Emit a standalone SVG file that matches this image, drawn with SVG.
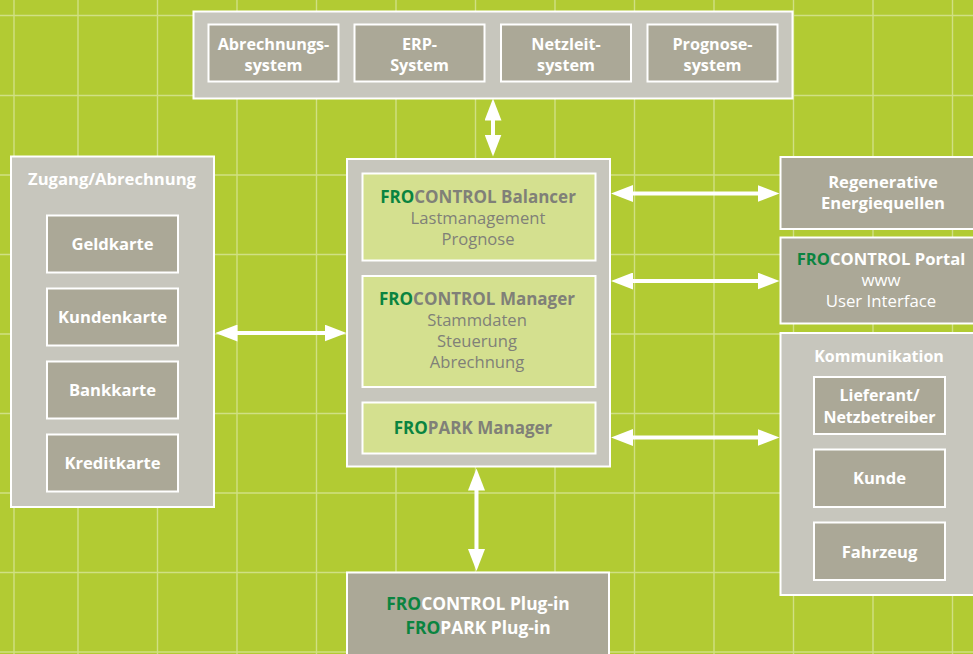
<svg xmlns="http://www.w3.org/2000/svg" width="973" height="654" viewBox="0 0 973 654">
<defs>
<style>
.grid line{stroke:#d0e083;stroke-width:1.4}
.cont{fill:#c7c6bd;stroke:#fff;stroke-width:2}
.dark{fill:#aba897;stroke:#fff;stroke-width:2}
.light{fill:#d4e08f;stroke:#fff;stroke-width:2}
text{font-family:"Open Sans","Liberation Sans",sans-serif;text-anchor:middle}
.w{fill:#fff;font-weight:700;font-size:16.6px}
.s{font-size:16.2px}
.k{font-size:16px}
.b{font-size:17.4px}
.t{fill:#808078;font-weight:700;font-size:17px}
.r{fill:#808078;font-weight:400;font-size:16.6px}
.wr{fill:#fff;font-weight:400;font-size:16.8px}
.fro{fill:#0a8440}
.conn line{stroke:#fff;stroke-width:4;marker-start:url(#ah);marker-end:url(#ah)}
</style>
<marker id="ah" markerUnits="userSpaceOnUse" markerWidth="22" markerHeight="17" viewBox="0 0 22 17" refX="12" refY="8.5" orient="auto-start-reverse">
<path d="M0,0 L22,8.5 L0,17 Z" fill="#fff"/>
</marker>
</defs>
<rect width="973" height="654" fill="#b2cb33"/>
<g class="grid">
<line x1="14" y1="0" x2="14" y2="654"/>
<line x1="78" y1="0" x2="78" y2="654"/>
<line x1="157.5" y1="0" x2="157.5" y2="654"/>
<line x1="237" y1="0" x2="237" y2="654"/>
<line x1="316.5" y1="0" x2="316.5" y2="654"/>
<line x1="396" y1="0" x2="396" y2="654"/>
<line x1="475.5" y1="0" x2="475.5" y2="654"/>
<line x1="555" y1="0" x2="555" y2="654"/>
<line x1="634.5" y1="0" x2="634.5" y2="654"/>
<line x1="714" y1="0" x2="714" y2="654"/>
<line x1="793.5" y1="0" x2="793.5" y2="654"/>
<line x1="873" y1="0" x2="873" y2="654"/>
<line x1="952.5" y1="0" x2="952.5" y2="654"/>
<line x1="0" y1="15.5" x2="973" y2="15.5"/>
<line x1="0" y1="95.5" x2="973" y2="95.5"/>
<line x1="0" y1="175" x2="973" y2="175"/>
<line x1="0" y1="254.5" x2="973" y2="254.5"/>
<line x1="0" y1="334" x2="973" y2="334"/>
<line x1="0" y1="413.5" x2="973" y2="413.5"/>
<line x1="0" y1="493" x2="973" y2="493"/>
<line x1="0" y1="572.5" x2="973" y2="572.5"/>
<line x1="0" y1="652" x2="973" y2="652"/>
</g>

<g id="systems">
<rect class="cont" x="193.5" y="11.5" width="599" height="87"/>
<g id="abrechnungssystem"><rect class="dark" x="208.5" y="24.5" width="130" height="57"/><text class="w s" x="273.5" y="50">Abrechnungs-</text><text class="w s" x="273.5" y="70.5">system</text></g>
<g id="erp"><rect class="dark" x="354.5" y="24.5" width="130" height="57"/><text class="w s" x="419.5" y="50">ERP-</text><text class="w s" x="419.5" y="70.5">System</text></g>
<g id="netzleit"><rect class="dark" x="501" y="24.5" width="130" height="57"/><text class="w s" x="566" y="50">Netzleit-</text><text class="w s" x="566" y="70.5">system</text></g>
<g id="prognosesystem"><rect class="dark" x="647.5" y="24.5" width="130" height="57"/><text class="w s" x="712.5" y="50">Prognose-</text><text class="w s" x="712.5" y="70.5">system</text></g>
</g>

<g id="zugang">
<rect class="cont" x="11" y="156.5" width="203" height="350.5"/>
<text class="w" x="112" y="185">Zugang/Abrechnung</text>
<g id="geldkarte"><rect class="dark" x="47" y="215.5" width="131" height="57"/><text class="w" x="112.5" y="250">Geldkarte</text></g>
<g id="kundenkarte"><rect class="dark" x="47" y="288.5" width="131" height="57"/><text class="w" x="112.5" y="323">Kundenkarte</text></g>
<g id="bankkarte"><rect class="dark" x="47" y="361.5" width="131" height="57"/><text class="w" x="112.5" y="396">Bankkarte</text></g>
<g id="kreditkarte"><rect class="dark" x="47" y="434.5" width="131" height="57"/><text class="w" x="112.5" y="469">Kreditkarte</text></g>
</g>

<g id="center">
<rect class="cont" x="347" y="159" width="263" height="307.5"/>
<g id="balancer"><rect class="light" x="362.5" y="173.5" width="233" height="87"/>
<text class="t" x="478" y="203"><tspan class="fro">FRO</tspan>CONTROL Balancer</text>
<text class="r" x="478" y="224">Lastmanagement</text>
<text class="r" x="478" y="245">Prognose</text></g>
<g id="manager"><rect class="light" x="362.5" y="276" width="233" height="111"/>
<text class="t" x="477" y="305"><tspan class="fro">FRO</tspan>CONTROL Manager</text>
<text class="r" x="477" y="326">Stammdaten</text>
<text class="r" x="477" y="347">Steuerung</text>
<text class="r" x="477" y="368">Abrechnung</text></g>
<g id="parkmanager"><rect class="light" x="362.5" y="402.5" width="233" height="51"/>
<text class="t" x="473" y="434"><tspan class="fro">FRO</tspan>PARK Manager</text></g>
</g>

<g id="regenerative"><rect class="dark" x="780.5" y="157" width="200" height="72"/>
<text class="w" x="883" y="187.5">Regenerative</text><text class="w" x="883" y="209">Energiequellen</text></g>

<g id="portal"><rect class="dark" x="780.5" y="237.5" width="200" height="86"/>
<text class="w" x="881" y="265"><tspan class="fro">FRO</tspan>CONTROL Portal</text>
<text class="wr" x="881" y="286">www</text>
<text class="wr" x="881" y="307">User Interface</text></g>

<g id="kommunikation">
<rect class="cont" x="780.5" y="333" width="200" height="262"/>
<text class="w k" x="879" y="361.5">Kommunikation</text>
<g id="lieferant"><rect class="dark" x="814" y="377" width="131" height="57"/><text class="w k" x="879.5" y="401">Lieferant/</text><text class="w k" x="879.5" y="422.5">Netzbetreiber</text></g>
<g id="kunde"><rect class="dark" x="814" y="449.5" width="131" height="57.5"/><text class="w" x="879.5" y="484">Kunde</text></g>
<g id="fahrzeug"><rect class="dark" x="814" y="522.5" width="131" height="57.5"/><text class="w" x="879.5" y="558">Fahrzeug</text></g>
</g>

<g id="plugin"><rect class="dark" x="347" y="572.5" width="262" height="90"/>
<text class="w b" x="478" y="610"><tspan class="fro">FRO</tspan>CONTROL Plug-in</text>
<text class="w b" x="478" y="634"><tspan class="fro">FRO</tspan>PARK Plug-in</text></g>

<g class="conn">
<line x1="493" y1="108.5" x2="493" y2="146.5"/>
<line x1="225.5" y1="333" x2="336.5" y2="333"/>
<line x1="621" y1="193.5" x2="769.5" y2="193.5"/>
<line x1="621" y1="281" x2="769.5" y2="281"/>
<line x1="621" y1="437.5" x2="769.5" y2="437.5"/>
<line x1="476.5" y1="478.5" x2="476.5" y2="561"/>
</g>
</svg>
